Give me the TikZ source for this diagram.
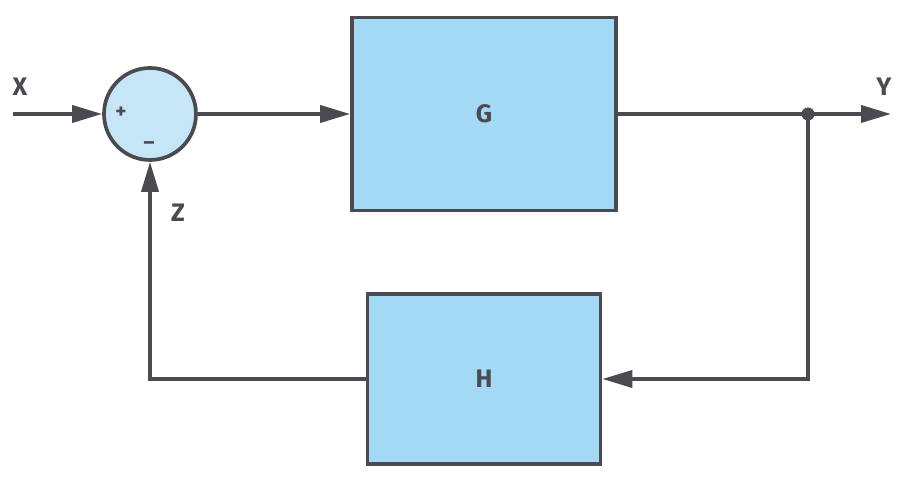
\documentclass[tikz,border=0pt]{standalone}
\usepackage{fontspec}
\setmainfont{Fira Sans}
\usetikzlibrary{arrows.meta,positioning,calc}
\definecolor{fbLine}{HTML}{4a4a50}
\definecolor{fbBox}{HTML}{a3d9f5}
\definecolor{fbSum}{HTML}{c6e6f8}
\tikzset{
  >={Triangle[length=6mm,width=3.4mm]},
  block/.style={draw=fbLine, fill=fbBox, line width=2.1pt,
              align=center, font=\bfseries\Large, text=fbLine},
  sumnode/.style={circle, draw=fbLine, fill=fbSum, line width=2.1pt,
              minimum size=1.84cm, inner sep=0pt},
  sig/.style={font=\bfseries\Large, text=fbLine},
  sign/.style={font=\bfseries\large, text=fbLine},
  wire/.style={draw=fbLine, line width=2.1pt},
  flow/.style={->, draw=fbLine, line width=2.1pt},
}

\begin{document}
\begin{tikzpicture}
  \useasboundingbox (0,0) rectangle (18.04,9.54);
  \node[sumnode] (sum) at (3.0,7.26){};
  \node[sign] (plus) at (2.42,7.28){+};
  \node[sign] (minus) at (2.98,6.62){--};
  \node[block,minimum width=5.28cm,minimum height=3.86cm] (g) at (9.68,7.26){G};
  \node[block,minimum width=4.66cm,minimum height=3.4cm] (h) at (9.68,1.96){H};
  \coordinate (in) at (0.26,7.26);
  \coordinate (out) at (17.82,7.26);
  \coordinate (tap) at (16.16,7.26);
  \coordinate (down) at (16.16,1.96);
  \coordinate (left) at (3.0,1.96);
  \node[sig] (x) at (0.4,7.8){X};
  \node[sig] (y) at (17.68,7.8){Y};
  \node[sig] (z) at (3.56,5.28){Z};
  % forward path
  \draw[flow] (in) -- (sum.west);
  \draw[flow] (sum.east) -- (g.west);
  \draw[flow] (g.east) -- (out);
  \fill[fbLine] (tap) circle (0.13);
  % feedback path
  \draw[flow] (tap) -- (down) -- (h.east);
  \draw[flow] (h.west) -- (left) -- (sum.south);
\end{tikzpicture}
\end{document}
